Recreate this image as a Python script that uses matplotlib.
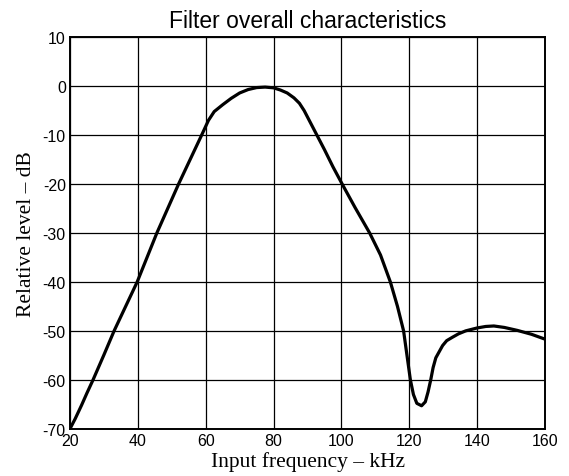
## Filter overall characteristics - relative level vs input frequency

import matplotlib.pyplot as plt

plt.rcParams['axes.unicode_minus'] = False

freq_khz = [20, 21.5, 23.4, 25, 26.8, 30, 33, 36.4, 39.8, 42.7, 45.6, 48.8,
            52, 55.4, 58.8, 60.8, 62.5, 65, 67.5, 70, 72.5, 75, 77.5, 80, 82,
            84, 86, 87.6, 89, 92, 95, 97.5, 100.2, 104, 108.3, 111.5, 114.4,
            116.5, 118.3, 119.3, 120.3, 121.2, 122.2, 123.6, 124.7, 125.5,
            126.3, 127, 127.8, 129, 129.8, 131, 132.7, 134.5, 136.6, 140,
            142.5, 144.9, 148, 151.8, 156, 160]
level_db = [-70, -68, -65.2, -62.7, -60, -54.9, -50, -45, -40, -35, -30, -25,
            -20, -15, -10, -7, -5.2, -3.8, -2.5, -1.4, -0.7, -0.3, -0.2, -0.35,
            -0.8, -1.4, -2.4, -3.5, -5, -9, -13, -16.5, -20, -24.8, -30, -34.5,
            -40, -45, -50, -55, -60, -63, -64.8, -65.3, -64.5, -62.5, -60,
            -57.5, -55.5, -54, -53, -52, -51.3, -50.6, -50, -49.4, -49.1, -49.0,
            -49.3, -49.9, -50.7, -51.7]

x_ticks = [20, 40, 60, 80, 100, 120, 140, 160]
y_ticks = [10, 0, -10, -20, -30, -40, -50, -60, -70]

fig = plt.figure(figsize=(5.69, 4.77), dpi=100)
ax = fig.add_axes([0.123, 0.099, 0.835, 0.821])

ax.plot(freq_khz, level_db, color="black", linewidth=2.3,
        solid_capstyle="round", solid_joinstyle="round")

ax.set_xlim(20, 160)
ax.set_ylim(-70, 10)
ax.set_xticks(x_ticks)
ax.set_yticks(y_ticks)
ax.grid(True, color="black", linewidth=0.9)
ax.tick_params(length=0, labelsize=11.5, pad=3)
for lab in ax.get_xticklabels() + ax.get_yticklabels():
    lab.set_family("Liberation Sans")
for sp in ax.spines.values():
    sp.set_linewidth(1.4)

ax.set_title("Filter overall characteristics", family="Liberation Sans", fontsize=16.5, pad=7)
ax.set_xlabel("Input frequency – kHz", family="Liberation Serif", fontsize=15.5, labelpad=2)
ax.set_ylabel("Relative level – dB", family="Liberation Serif", fontsize=15.5, labelpad=5)

plt.savefig("out.png", dpi=100)
plt.close()
